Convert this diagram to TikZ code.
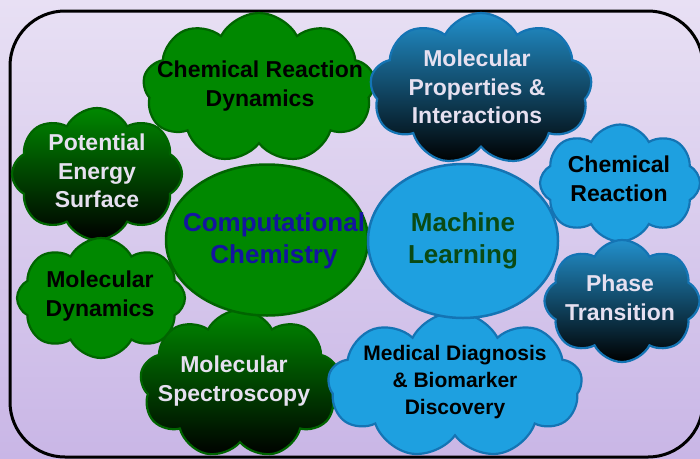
\documentclass[tikz,border=0pt]{standalone}
\usepackage{fontspec}
\setmainfont{Liberation Sans}
\usepackage{tikz}
\usetikzlibrary{shapes.symbols,shapes.geometric}

\definecolor{bgtop}{RGB}{232,224,244}
\definecolor{bgbot}{RGB}{201,182,230}
\definecolor{leafgreen}{RGB}{0,136,0}
\definecolor{leafedge}{RGB}{0,100,0}
\definecolor{skyblue}{RGB}{30,160,224}
\definecolor{skyedge}{RGB}{20,116,180}
\definecolor{deepblue}{RGB}{34,144,204}
\definecolor{paletext}{RGB}{230,224,240}
\definecolor{chemtext}{RGB}{20,20,160}
\definecolor{mltext}{RGB}{10,74,20}

\tikzset{
  topic/.style={cloud, cloud puffs=9, cloud puff arc=125, cloud ignores aspect,
    line width=2.2pt, inner sep=0pt},
  greencloud/.style={topic, draw=leafedge, fill=leafgreen},
  darkgreencloud/.style={topic, draw=leafedge, top color=leafgreen, bottom color=black},
  bluecloud/.style={topic, draw=skyedge, fill=skyblue},
  darkbluecloud/.style={topic, draw=skyedge, top color=deepblue, bottom color=black},
  hub/.style={ellipse, line width=2.5pt, inner sep=0pt},
  caption/.style={align=center, inner sep=0pt, font=\fontsize{23}{28.5}\selectfont\bfseries},
  hubcaption/.style={align=center, inner sep=0pt, font=\fontsize{26}{32}\selectfont\bfseries}
}

\begin{document}
\begin{tikzpicture}[x=1pt,y=-1pt]
    \useasboundingbox (0,0) rectangle (700,458);
    \clip (0,0) rectangle (700,458);
    \shade[top color=bgtop, bottom color=bgbot] (0,0) rectangle (700,458);
    \draw[line width=3pt, rounded corners=55pt] (10,11) rectangle (703,457);

    \node[greencloud, minimum width=232pt, minimum height=150pt] (dynamics) at (259,88) {};
    \node[caption, text=black] at (260,86) {Chemical Reaction\\Dynamics};
    \node[darkgreencloud, minimum width=170pt, minimum height=132pt, cloud puffs=8] (surface) at (97,174) {};
    \node[caption, text=paletext] at (97,171) {Potential\\Energy\\Surface};
    \node[greencloud, minimum width=168pt, minimum height=120pt, cloud puffs=8] (moldyn) at (101,298) {};
    \node[caption, text=black] at (100,296) {Molecular\\Dynamics};
    \node[darkgreencloud, minimum width=200pt, minimum height=148pt] (spectro) at (240,384) {};
    \node[caption, text=paletext] at (234,381) {Molecular\\Spectroscopy};

    \node[darkbluecloud, minimum width=222pt, minimum height=152pt] (props) at (481,89) {};
    \node[caption, text=paletext] at (477,87) {Molecular\\Properties \&\\Interactions};
    \node[bluecloud, minimum width=160pt, minimum height=117pt, cloud puffs=8] (reaction) at (620,183) {};
    \node[caption, text=black] at (619,179) {Chemical\\Reaction};
    \node[darkbluecloud, minimum width=155pt, minimum height=122pt, cloud puffs=8] (phase) at (622,301) {};
    \node[caption, text=paletext] at (620,298) {Phase\\Transition};
    \node[bluecloud, minimum width=254pt, minimum height=146pt] (medical) at (455,385) {};
    \node[caption, text=black, font=\fontsize{21}{27}\selectfont\bfseries] at (455,382) {Medical Diagnosis\\\& Biomarker\\Discovery};

    \node[hub, draw=leafedge, fill=leafgreen, minimum width=202pt, minimum height=151pt] (compchem) at (267,240) {};
    \node[hubcaption, text=chemtext] at (274,241) {Computational\\Chemistry};
    \node[hub, draw=skyedge, fill=skyblue, minimum width=190pt, minimum height=154pt] (ml) at (463,241) {};
    \node[hubcaption, text=mltext] at (463,241) {Machine\\Learning};
\end{tikzpicture}
\end{document}
